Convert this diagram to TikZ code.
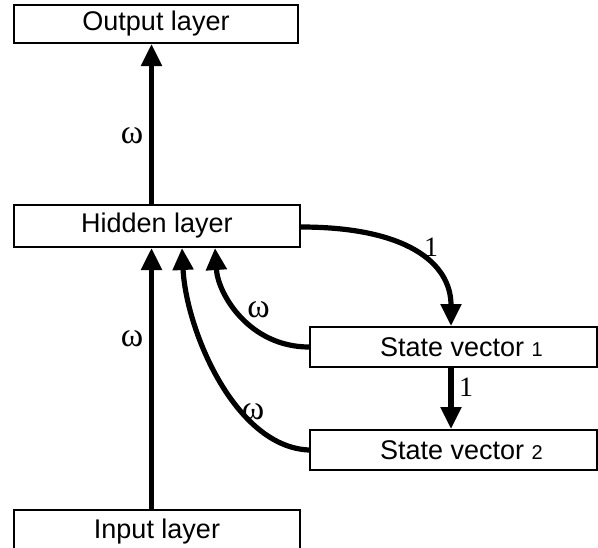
\documentclass[tikz,border=0pt]{standalone}
\usepackage{fontspec}
\setmainfont{Liberation Sans}
\newfontfamily\serifgr{Liberation Serif}
\usetikzlibrary{arrows.meta,calc}
\begin{document}
\begin{tikzpicture}[x=0.5pt,y=-0.5pt,
  layerbox/.style={draw,line width=1pt,inner sep=0pt,font=\fontsize{13.5}{15}\selectfont},
  arr/.style={line width=2.6pt,-{Triangle[length=11pt,width=10pt]}},
  wlab/.style={font=\serifgr\fontsize{14}{16}\selectfont,inner sep=0pt},
  omlab/.style={font=\serifgr\fontsize{17}{19}\selectfont,inner sep=0pt}]
\useasboundingbox (0,0) rectangle (598,547);
\node[layerbox,minimum width=142pt,minimum height=19pt] (out) at (156,24) {Output layer};
\node[layerbox,minimum width=143pt,minimum height=21pt] (hid) at (157,226) {Hidden layer};
\node[layerbox,minimum width=143.5pt,minimum height=20pt] (sv1) at (453.5,347) {\hspace{8pt}State vector {\fontsize{10}{12}\selectfont 1}};
\node[layerbox,minimum width=143.5pt,minimum height=20pt] (sv2) at (453.5,450) {\hspace{8pt}State vector {\fontsize{10}{12}\selectfont 2}};
\node[layerbox,minimum width=143pt,minimum height=22pt] (inp) at (157,532) {Input layer};
\coordinate (vx) at (151.5,0);
\coordinate (ax) at (182,0);
\coordinate (bx) at (215,0);
\coordinate (cx) at (451,0);
\draw[arr] (hid.north -| vx) -- (out.south -| vx);
\draw[arr] (inp.north -| vx) -- (hid.south -| vx);
\draw[arr] (hid.east |- 0,227) .. controls (405,227) and (451,262) .. (sv1.north -| cx);
\draw[arr] (sv1.south -| cx) -- (sv2.north -| cx);
\draw[arr] (sv1.west) .. controls (250,347) and (218,295) .. (hid.south -| bx);
\draw[arr] (sv2.west) .. controls (235,447) and (186,330) .. (hid.south -| ax);
\node[omlab] (w1) at (132,136) {ω};
\node[omlab] (w2) at (132,339) {ω};
\node[omlab] (w3) at (258.5,310) {ω};
\node[omlab] (w4) at (253,412) {ω};
\node[wlab] (o1) at (431,247) {1};
\node[wlab] (o2) at (466,387) {1};
\end{tikzpicture}
\end{document}
